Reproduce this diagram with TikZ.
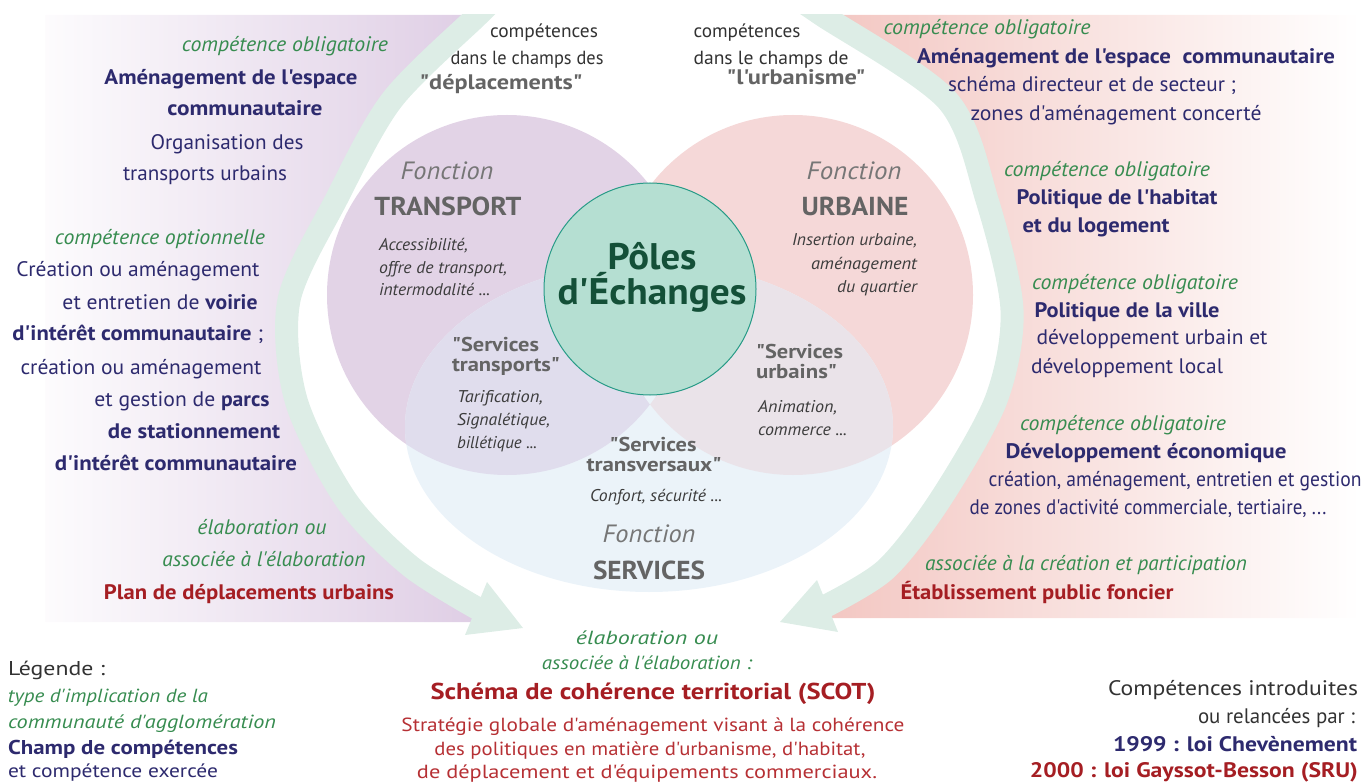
\documentclass[tikz,border=0pt]{standalone}
\usepackage{fontspec}
\usepackage{graphicx}
\setmainfont{PT Sans}[Ligatures=TeXOff]
\usetikzlibrary{calc}
\definecolor{navy}{RGB}{45,42,110}
\definecolor{grn}{RGB}{55,140,80}
\definecolor{dred}{RGB}{165,30,35}
\definecolor{lred}{RGB}{182,48,52}
\definecolor{gtxt}{RGB}{100,100,100}
\definecolor{gfon}{RGB}{118,118,118}
\definecolor{gdesc}{RGB}{60,60,60}
\definecolor{dtxt}{RGB}{50,50,50}
\definecolor{bandc}{RGB}{221,237,230}
\definecolor{lil}{RGB}{217,197,224}
\definecolor{pnk}{RGB}{242,195,190}
\definecolor{ctr}{RGB}{226,211,230}
\definecolor{cur}{RGB}{245,216,216}
\definecolor{cse}{RGB}{235,243,249}
\definecolor{ots}{RGB}{224,221,237}
\definecolor{ous}{RGB}{234,227,233}
\definecolor{pole}{RGB}{181,223,210}
\definecolor{poleedge}{RGB}{40,155,135}
\definecolor{poletxt}{RGB}{20,80,56}
\newcommand{\fw}[2]{\resizebox{#1pt}{\height}{#2}}
\newcommand{\ap}{'}
\tikzset{
  tx/.style={inner sep=0pt, outer sep=0pt, anchor=mid, yshift=-5pt},
  txl/.style={tx, anchor=mid west},
  txr/.style={tx, anchor=mid east},
  cg/.style={text=grn, font=\fontsize{21}{24}\selectfont\itshape},
  cn/.style={text=navy, font=\fontsize{21}{24}\selectfont},
  cb/.style={text=navy, font=\fontsize{21}{24}\selectfont\bfseries},
  cr/.style={text=dred, font=\fontsize{21}{24}\selectfont\bfseries},
  topl/.style={text=dtxt, font=\fontsize{19}{22}\selectfont},
  topq/.style={text=gtxt, font=\fontsize{21}{24}\selectfont\bfseries},
  fon/.style={text=gfon, font=\fontsize{25}{28}\selectfont\itshape},
  fcap/.style={text=gtxt, font=\fontsize{26}{28}\selectfont\bfseries},
  desc/.style={text=gdesc, font=\fontsize{17}{20}\selectfont\itshape},
  serv/.style={text=gtxt, font=\fontsize{20}{22}\selectfont\bfseries},
  poles/.style={text=poletxt, font=\fontsize{37}{40}\selectfont\bfseries},
  bg/.style={text=grn, font=\fontsize{19}{22}\selectfont\itshape},
  scot/.style={text=dred, font=\fontsize{23}{26}\selectfont\bfseries},
  strat/.style={text=lred, font=\fontsize{19}{22}\selectfont},
  leg/.style={text=dtxt, font=\fontsize{20}{22}\selectfont},
  legg/.style={text=grn, font=\fontsize{19}{22}\selectfont\itshape},
  legb/.style={text=navy, font=\fontsize{20}{22}\selectfont\bfseries},
  legn/.style={text=navy, font=\fontsize{19}{22}\selectfont},
  brt/.style={text=dtxt, font=\fontsize{21}{24}\selectfont},
  brb/.style={text=navy, font=\fontsize{21}{24}\selectfont\bfseries},
  brr/.style={text=dred, font=\fontsize{21}{24}\selectfont\bfseries},
  bandline/.style={draw=bandc, line width=23pt},
}
\begin{document}
\begin{tikzpicture}[x=1pt,y=-1pt]
\useasboundingbox (0,0) rectangle (1365,783);
% ---------------- panels
\begin{scope}
  \clip (45,15) -- plot[smooth] coordinates {(478,15) (392,100) (336,200) (289,300) (296,400) (346,500) (410,566) (482,611)} -- (500,622) -- (45,622) -- cycle;
  \shade[left color=lil!6, right color=lil] (45,15) rectangle (560,622);
\end{scope}
\begin{scope}
  \clip (1360,15) -- plot[smooth] coordinates {(822,15) (947,100) (987,200) (1012,310) (996,400) (940,500) (885,570) (820,609)} -- (805,618) -- (1360,618) -- cycle;
  \shade[left color=pnk, right color=white] (790,15) rectangle (1360,618);
\end{scope}
% ---------------- curved arrows
\begin{scope}
  \clip (0,15) rectangle (1365,783);
  \draw[bandline] plot[smooth] coordinates {(493,0) (478,15) (392,100) (336,200) (289,300) (296,400) (346,500) (410,566) (482,611)};
  \fill[bandc] (487,582) -- (523,628) -- (465,635) -- cycle;
  \draw[bandline] plot[smooth] coordinates {(800,0) (822,15) (947,100) (987,200) (1012,310) (996,400) (940,500) (885,570) (820,609)};
  \fill[bandc] (817,580) -- (838,632) -- (780,622) -- cycle;
\end{scope}
% ---------------- circles
\fill[ctr] (507,295) circle (180);
\fill[cur] (793,295) circle (180);
\fill[cse] (649,427) ellipse [x radius=244, y radius=165];
\begin{scope}
  \clip (507,295) circle (180);
  \fill[ots] (649,427) ellipse [x radius=244, y radius=165];
\end{scope}
\begin{scope}
  \clip (793,295) circle (180);
  \fill[ous] (649,427) ellipse [x radius=244, y radius=165];
\end{scope}
\begin{scope}
  \clip (507,295) circle (180);
  \clip (793,295) circle (180);
  \fill[cse] (649,427) ellipse [x radius=244, y radius=165];
\end{scope}
\draw[draw=poleedge, fill=pole, line width=1pt] (650,289) circle (106);
% ---------------- left column
\node[tx,cg] (l1) at (285,44) {\fw{206}{compétence obligatoire}};
\node[tx,cb] (l2) at (231,77) {\fw{253}{Aménagement de l\ap espace}};
\node[tx,cb] (l3) at (245,108) {\fw{155}{communautaire}};
\node[tx,cn] (l4) at (227,142) {\fw{153}{Organisation des}};
\node[tx,cn] (l5) at (205,173) {\fw{164}{transports urbains}};
\node[tx,cg] (l6) at (160,237) {\fw{210}{compétence optionnelle}};
\node[tx,cn] (l7) at (138,269) {\fw{243}{Création ou aménagement}};
\node[tx,cn] (l8) at (160,302) {\fw{195}{et entretien de \textbf{voirie}}};
\node[tx,cn] (l9) at (138,333) {\fw{251}{\textbf{d\ap intérêt communautaire} ;}};
\node[tx,cn] (l10) at (141,367) {\fw{241}{création ou aménagement}};
\node[tx,cn] (l11) at (182,399) {\fw{175}{et gestion de \textbf{parcs}}};
\node[tx,cb] (l12) at (194,431) {\fw{172}{de stationnement}};
\node[tx,cb] (l13) at (176,463) {\fw{242}{d\ap intérêt communautaire}};
\node[tx,cg] (l14) at (262,527) {\fw{129}{élaboration ou}};
\node[tx,cg] (l15) at (264,559) {\fw{203}{associée à l\ap élaboration}};
\node[tx,cr] (l16) at (249,592) {\fw{290}{Plan de déplacements urbains}};
% ---------------- top labels
\node[tx,topl] (tl1) at (544,30) {\fw{108}{compétences}};
\node[tx,topl] (tl2) at (527,57) {\fw{153}{dans le champs des}};
\node[tx,topq] (tl3) at (501,82) {\fw{163}{"déplacements"}};
\node[tx,topl] (tr1) at (747,30) {\fw{107}{compétences}};
\node[tx,topl] (tr2) at (771,57) {\fw{155}{dans le champs de}};
\node[tx,topq] (tr3) at (796,77) {\fw{139}{"l\ap urbanisme"}};
% ---------------- right column
\node[tx,cg] (r1) at (987,27) {\fw{207}{compétence obligatoire}};
\node[tx,cb] (r2) at (1126,56) {\fw{418}{Aménagement de l\ap espace\ \ communautaire}};
\node[tx,cn] (r3) at (1092,84) {\fw{288}{schéma directeur et de secteur ;}};
\node[tx,cn] (r4) at (1116,113) {\fw{291}{zones d\ap aménagement concerté}};
\node[tx,cg] (r5) at (1107,169) {\fw{206}{compétence obligatoire}};
\node[tx,cb] (r6) at (1117,197) {\fw{201}{Politique de l\ap habitat}};
\node[tx,cb] (r7) at (1096,225) {\fw{147}{et du logement}};
\node[tx,cg] (r8) at (1135,282) {\fw{206}{compétence obligatoire}};
\node[tx,cb] (r9) at (1127,310) {\fw{185}{Politique de la ville}};
\node[tx,cn] (r10) at (1152,337) {\fw{231}{développement urbain et}};
\node[tx,cn] (r11) at (1127,366) {\fw{192}{développement local}};
\node[tx,cg] (r12) at (1123,423) {\fw{206}{compétence obligatoire}};
\node[tx,cb] (r13) at (1146,451) {\fw{281}{Développement économique}};
\node[tx,cn] (r14) at (1175,479) {\fw{373}{création, aménagement, entretien et gestion}};
\node[tx,cn] (r15) at (1148,507) {\fw{357}{de zones d\ap activité commerciale, tertiaire, ...}};
\node[tx,cg] (r16) at (1086,563) {\fw{322}{associée à la création et participation}};
\node[tx,cr] (r17) at (1037,592) {\fw{273}{Établissement public foncier}};
% ---------------- circle labels
\node[tx,fon] (ft) at (447,172) {\fw{93}{Fonction}};
\node[tx,fcap] (ftc) at (448,208) {\fw{147}{TRANSPORT}};
\node[txl,desc] (d1) at (379,243) {\fw{89}{Accessibilité,}};
\node[txl,desc] (d2) at (379,266) {\fw{128}{offre de transport,}};
\node[txl,desc] (d3) at (379,288) {\fw{111}{intermodalité ...}};
\node[txl,serv] (s1) at (452,344) {\fw{87}{"Services}};
\node[txl,serv] (s2) at (452,364) {\fw{108}{transports"}};
\node[txl,desc] (d4) at (457,395) {\fw{86}{Tarification,}};
\node[txl,desc] (d5) at (457,418) {\fw{93}{Signalétique,}};
\node[txl,desc] (d6) at (457,441) {\fw{80}{billétique ...}};
\node[tx,fon] (fu) at (854,172) {\fw{95}{Fonction}};
\node[tx,fcap] (fuc) at (855,208) {\fw{107}{URBAINE}};
\node[txr,desc] (d7) at (917,238) {\fw{125}{Insertion urbaine,}};
\node[txr,desc] (d8) at (917,262) {\fw{106}{aménagement}};
\node[txr,desc] (d9) at (917,285) {\fw{80}{du quartier}};
\node[txl,serv] (s3) at (756,351) {\fw{87}{"Services}};
\node[txl,serv] (s4) at (756,371) {\fw{81}{urbains"}};
\node[txl,desc] (d10) at (758,405) {\fw{79}{Animation,}};
\node[txl,desc] (d11) at (758,428) {\fw{89}{commerce ...}};
\node[tx,serv] (s5) at (653,444) {\fw{87}{"Services}};
\node[tx,serv] (s6) at (654,464) {\fw{135}{transversaux"}};
\node[tx,desc] (d12) at (656,494) {\fw{132}{Confort, sécurité ...}};
\node[tx,fon] (fs) at (649,535) {\fw{93}{Fonction}};
\node[tx,fcap] (fsc) at (649,572) {\fw{112}{SERVICES}};
\node[tx,poles] (p1) at (652,262) {\fw{89}{Pôles}};
\node[tx,poles] (p2) at (652,297) {\fw{189}{d\ap Échanges}};
% ---------------- bottom centre
\node[tx,bg] (b1) at (647,637) {\fw{142}{élaboration ou}};
\node[tx,bg] (b2) at (647,662) {\fw{210}{associée à l\ap élaboration :}};
\node[tx,scot] (b3) at (653,692) {\fw{445}{Schéma de cohérence territorial (SCOT)}};
\node[tx,strat] (b4) at (653,724) {\fw{503}{Stratégie globale d\ap aménagement visant à la cohérence}};
\node[tx,strat] (b5) at (650,748) {\fw{431}{des politiques en matière d\ap urbanisme, d\ap habitat,}};
\node[tx,strat] (b6) at (647,771) {\fw{460}{de déplacement et d\ap équipements commerciaux.}};
% ---------------- legend
\node[txl,leg] (g1) at (8,668) {\fw{97}{Légende :}};
\node[txl,legg] (g2) at (8,695) {\fw{200}{type d\ap implication de la}};
\node[txl,legg] (g3) at (8,721) {\fw{268}{communauté d\ap agglomération}};
\node[txl,legb] (g4) at (8,747) {\fw{230}{Champ de compétences}};
\node[txl,legn] (g5) at (8,770) {\fw{210}{et compétence exercée}};
% ---------------- bottom right
\node[txr,brt] (k1) at (1358,688) {\fw{250}{Compétences introduites}};
\node[txr,brt] (k2) at (1355,716) {\fw{157}{ou relancées par :}};
\node[txr,brb] (k3) at (1357,744) {\fw{244}{1999 : loi Chevènement}};
\node[txr,brr] (k4) at (1358,770) {\fw{328}{2000 : loi Gayssot-Besson (SRU)}};
\end{tikzpicture}
\end{document}
